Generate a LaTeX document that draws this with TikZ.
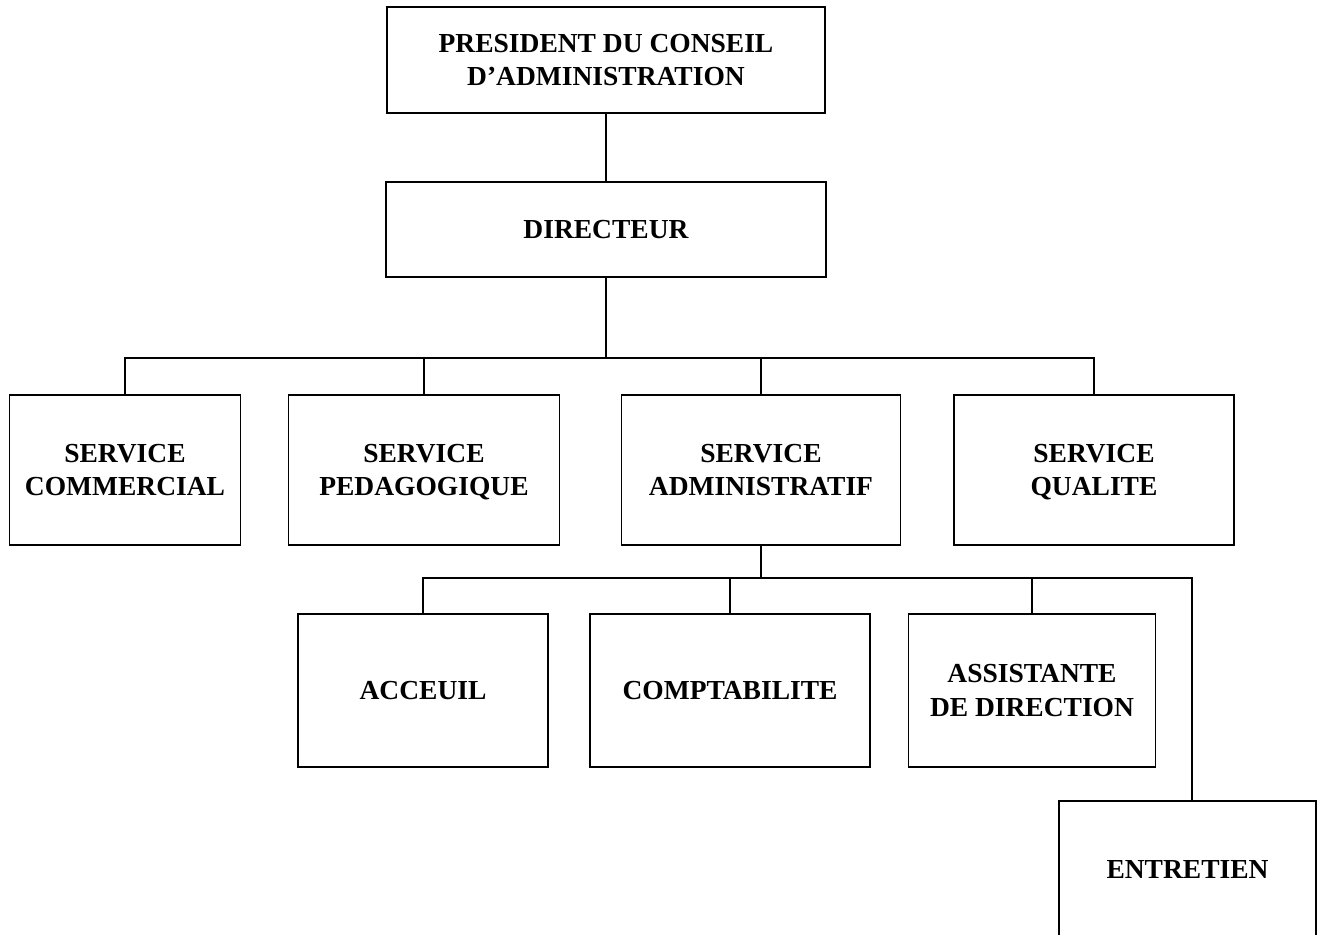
\documentclass[tikz,border=0pt]{standalone}
\usepackage{fontspec}
\setmainfont{Liberation Serif}
\newcommand\mystrut{\rule[-7.65pt]{0pt}{33.5pt}}
\begin{document}
\begin{tikzpicture}[x=1pt,y=-1pt,
  orgbox/.style={draw=black, line width=1.6pt, fill=white, inner sep=0pt, outer sep=0pt,
    align=center, font=\fontsize{27.5}{33.5}\selectfont\bfseries},
  link/.style={draw=black, line width=2.3pt}]
\useasboundingbox[fill=white] (0,0) rectangle (1319,934);
\begin{scope}
\clip (0,0) rectangle (1319,934);
\node[orgbox, minimum width=438pt, minimum height=106pt] (pres) at (606,60) {PRESIDENT DU CONSEIL\mystrut\\D'ADMINISTRATION\mystrut};
\node[orgbox, minimum width=440pt, minimum height=95pt] (dir) at (606,229.5) {DIRECTEUR\mystrut};
\node[orgbox, minimum width=231pt, minimum height=150pt] (sc) at (125,470) {SERVICE\mystrut\\COMMERCIAL\mystrut};
\node[orgbox, minimum width=271pt, minimum height=150pt] (sp) at (424,470) {SERVICE\mystrut\\PEDAGOGIQUE\mystrut};
\node[orgbox, minimum width=279pt, minimum height=150pt] (sa) at (761,470) {SERVICE\mystrut\\ADMINISTRATIF\mystrut};
\node[orgbox, minimum width=280pt, minimum height=150pt] (sq) at (1094,470) {SERVICE\mystrut\\QUALITE\mystrut};
\node[orgbox, minimum width=250pt, minimum height=153pt] (acc) at (423,690.5) {ACCEUIL\mystrut};
\node[orgbox, minimum width=280pt, minimum height=153pt] (comp) at (730,690.5) {COMPTABILITE\mystrut};
\node[orgbox, minimum width=247pt, minimum height=153pt] (asst) at (1032,690.5) {ASSISTANTE\mystrut\\DE DIRECTION\mystrut};
\node[orgbox, minimum width=257pt, minimum height=136pt] (ent) at (1187.5,869) {ENTRETIEN\mystrut};
\end{scope}
\coordinate (bar1) at (606,358);
\coordinate (bar2) at (761,578);
\coordinate (entc) at (1192,801);
\draw[link] (pres.south) -- (dir.north);
\draw[link] (dir.south) -- (bar1);
\draw[link] (sc.north) |- (bar1);
\draw[link] (sp.north) |- (bar1);
\draw[link] (sa.north) |- (bar1);
\draw[link] (sq.north) |- (bar1);
\draw[link] (sa.south) -- (bar2);
\draw[link] (acc.north) |- (bar2);
\draw[link] (comp.north) |- (bar2);
\draw[link] (asst.north) |- (bar2);
\draw[link] (entc) |- (bar2);
\end{tikzpicture}
\end{document}
